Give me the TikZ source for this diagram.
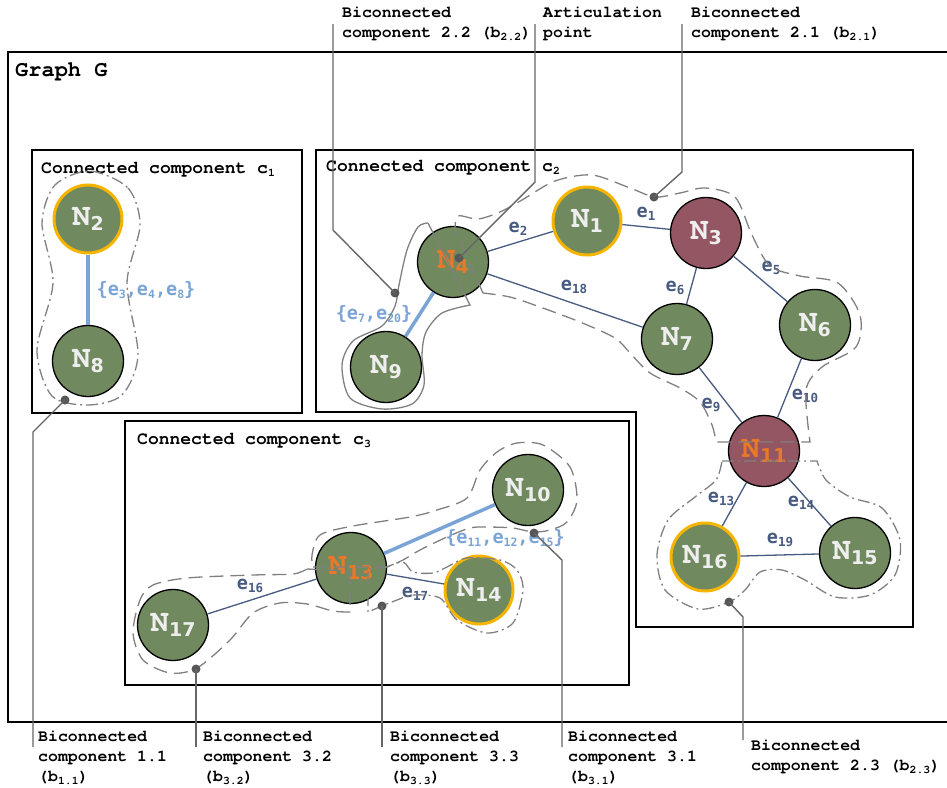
\documentclass[tikz,border=0pt]{standalone}
\usepackage{fontspec}
\setmonofont{texgyrecursor}[Extension=.otf, UprightFont=*-regular, BoldFont=*-bold,
  ItalicFont=*-italic, BoldItalicFont=*-bolditalic]
\newfontfamily\subfont{DejaVu Sans}
\newfontfamily\efont{DejaVu Sans Mono}

\definecolor{ngreen}{HTML}{71895F}
\definecolor{nred}{HTML}{945662}
\definecolor{nyellow}{HTML}{F5B400}
\definecolor{norange}{HTML}{E8782A}
\definecolor{ntext}{HTML}{EEEEEE}
\definecolor{eblue}{HTML}{475A80}
\definecolor{lblue}{HTML}{7BA4D6}
\definecolor{ogray}{HTML}{808080}
\definecolor{lgray}{HTML}{666666}

\newcommand\nname[1]{{\fontsize{31}{31}\selectfont N}\raisebox{-5pt}{\subfont\fontsize{19}{19}\selectfont #1}}
\newcommand\elab[1]{e\raisebox{-3pt}{\fontsize{12.5}{12.5}\selectfont #1}}
\newcommand\tsub[1]{\raisebox{-2.5pt}{\fontsize{11.5}{11.5}\selectfont #1}}

\tikzset{
  gnode/.style={circle, draw=black, line width=1.3pt, fill=ngreen, minimum size=71pt,
    inner sep=0pt, text=ntext, font=\ttfamily\bfseries},
  rnode/.style={gnode, fill=nred},
  onode/.style={gnode, draw=nyellow, line width=3pt, minimum size=68pt},
  edge/.style={draw=eblue, line width=1.3pt},
  bedge/.style={draw=lblue, line width=3.5pt},
  elabel/.style={text=eblue, inner sep=0pt, font=\efont\bfseries\fontsize{18.5}{18.5}\selectfont},
  blabel/.style={elabel, text=lblue},
  frame/.style={draw=black, line width=1.5pt},
  ftitle/.style={anchor=west, inner sep=0pt, font=\ttfamily\bfseries\fontsize{18}{18}\selectfont},
  note/.style={anchor=north west, align=left, inner sep=0pt,
    font=\ttfamily\bfseries\fontsize{16.5}{20}\selectfont},
  bsolid/.style={draw=ogray, line width=1.3pt},
  bdash/.style={draw=ogray, line width=1.3pt, dash pattern=on 14pt off 7pt},
  bdashdot/.style={draw=ogray, line width=1.3pt, dash pattern=on 12pt off 4pt on 2pt off 4pt},
  lead/.style={draw=lgray, line width=1.4pt},
  leaddot/.style={circle, fill=lgray!85!black, inner sep=0pt, minimum size=9pt},
}

\begin{document}
\begin{tikzpicture}[x=1pt, y=-1pt]
  \useasboundingbox (0,0) rectangle (947,787);

  % frames
  \draw[frame] (8,52) rectangle (960,722);
  \node[ftitle, font=\ttfamily\bfseries\fontsize{22}{22}\selectfont] (gtitle) at (15,72) {Graph G};
  \draw[frame] (32,150) rectangle (302,413);
  \node[ftitle] (c1title) at (41,170) {Connected component c\tsub{1}};
  \draw[frame] (316,150) -- (913,150) -- (913,627) -- (636,627) -- (636,412) -- (316,412) -- cycle;
  \node[ftitle] (c2title) at (326,168) {Connected component c\tsub{2}};
  \draw[frame] (125,421) rectangle (629,685);
  \node[ftitle] (c3title) at (137,441) {Connected component c\tsub{3}};

  % vertices
  \node[onode] (N2) at (88,219) {\nname{2}};
  \node[gnode] (N8) at (88,361) {\nname{8}};
  \node[onode] (N1) at (587,221) {\nname{1}};
  \node[gnode] (N4) at (453,262) {\color{norange}\nname{4}};
  \node[gnode] (N9) at (386,367) {\nname{9}};
  \node[rnode] (N3) at (706,233) {\nname{3}};
  \node[gnode] (N6) at (815,325) {\nname{6}};
  \node[gnode] (N7) at (677,339) {\nname{7}};
  \node[rnode] (N11) at (764,451) {\color{norange}\nname{11}};
  \node[onode] (N16) at (705,557) {\nname{16}};
  \node[gnode] (N15) at (855,553) {\nname{15}};
  \node[gnode] (N10) at (528,490) {\nname{10}};
  \node[gnode] (N13) at (351,568) {\color{norange}\nname{13}};
  \node[onode] (N14) at (479,590) {\nname{14}};
  \node[gnode] (N17) at (173,625) {\nname{17}};

  % edges
  \draw[bedge] (N2) -- (N8);
  \draw[bedge] (N4) -- (N9);
  \draw[bedge] (N13) -- (N10);
  \draw[edge] (N1) -- (N3);
  \draw[edge] (N4) -- (N1);
  \draw[edge] (N3) -- (N6);
  \draw[edge] (N3) -- (N7);
  \draw[edge] (N7) -- (N11);
  \draw[edge] (N6) -- (N11);
  \draw[edge] (N11) -- (N16);
  \draw[edge] (N11) -- (N15);
  \draw[edge] (N4) -- (N7);
  \draw[edge] (N16) -- (N15);
  \draw[edge] (N17) -- (N13);
  \draw[edge] (N13) -- (N14);

  \node[blabel] (l348) at (146,290) {\{e\tsub{3},e\tsub{4},e\tsub{8}\}};
  \node[blabel] (l720) at (374,314) {\{e\tsub{7},e\tsub{20}\}};
  \node[blabel] (l111215) at (505,538) {\{e\tsub{11},e\tsub{12},e\tsub{15}\}};
  \node[elabel] (l1) at (646,214) {\elab{1}};
  \node[elabel] (l2) at (518,229) {\elab{2}};
  \node[elabel] (l5) at (771,268) {\elab{5}};
  \node[elabel] (l6) at (675,288) {\elab{6}};
  \node[elabel] (l9) at (711,405) {\elab{9}};
  \node[elabel] (l10) at (805,396) {\elab{10}};
  \node[elabel] (l13) at (721,499) {\elab{13}};
  \node[elabel] (l14) at (801,503) {\elab{14}};
  \node[elabel] (l18) at (574,287) {\elab{18}};
  \node[elabel] (l19) at (780,540) {\elab{19}};
  \node[elabel] (l16) at (250,586) {\elab{16}};
  \node[elabel] (l17) at (415,594) {\elab{17}};

  % biconnected components
  \draw[bdashdot] plot[smooth cycle] coordinates {(90,171) (128,188) (140,225) (127,283)
    (138,355) (122,395) (88,405) (52,396) (37,350) (53,283) (42,223) (55,185)};
  \draw[bsolid] (428,223) -- (470,305) -- plot[smooth] coordinates {(470,305) (442,313)
    (426,332) (422,355) (424,385) (412,404) (382,409) (350,398) (342,365) (353,341)
    (382,326) (395,306) (399,285) (407,250) (418,227) (428,223)};
  \draw[bdash] (483,293) -- (455,230) -- plot[smooth] coordinates {(455,230) (458,216)
    (478,219) (500,212) (522,200) (555,181) (592,175) (630,188) (655,197) (680,193)
    (705,188) (735,197) (752,235) (770,266) (800,276) (838,283) (860,315) (856,347)
    (822,367) (806,390) (810,442)} -- (716,442) -- plot[smooth] coordinates {(716,442)
    (712,425) (700,402) (680,388) (650,373) (630,353) (615,338) (580,322) (540,307)
    (510,297) (483,293)};
  \draw[bdashdot] (722,461) -- (817,461) -- plot[smooth] coordinates {(817,461) (826,480)
    (850,497) (882,508) (900,540) (895,575) (870,595) (835,597) (805,580) (782,570)
    (760,572) (745,590) (729,602) (698,609) (665,590) (657,555) (668,520) (695,497)
    (716,480) (722,461)};
  \draw[bdash] (313,567) -- (387,567) -- plot[smooth] coordinates {(387,567) (403,560)
    (420,550) (447,537) (470,528) (487,527) (513,528) (533,532) (550,530) (567,522)
    (577,500) (570,467) (543,445) (517,443) (497,452) (480,470) (467,498) (437,510)
    (410,517) (353,526) (320,535) (312,555) (313,567)};
  \draw[bdash] (307,569) -- (350,571) -- (350,612) -- plot[smooth] coordinates {(350,612)
    (333,611) (307,604) (280,603) (253,613) (230,640) (197,668) (170,673) (143,660)
    (133,633) (140,600) (153,585) (187,578) (253,575) (293,574) (307,569)};
  \draw[bdashdot] (387,567) -- (368,569) -- (368,612) -- plot[smooth] coordinates {(368,612)
    (382,606) (397,600) (413,595) (440,598) (457,620) (487,633) (513,623) (523,590)
    (517,570) (500,560) (467,558) (447,567) (433,573) (413,572) (403,562) (387,567)};

  % annotations
  \node[note] (tb22) at (342,7) {Biconnected\\component 2.2 (b\tsub{2.2})};
  \node[note] (tap) at (543,7) {Articulation\\point};
  \node[note] (tb21) at (691,7) {Biconnected\\component 2.1 (b\tsub{2.1})};
  \node[note] (tb11) at (38,731) {Biconnected\\component 1.1\\(b\tsub{1.1})};
  \node[note] (tb32) at (203,731) {Biconnected\\component 3.2\\(b\tsub{3.2})};
  \node[note] (tb33) at (390,731) {Biconnected\\component 3.3\\(b\tsub{3.3})};
  \node[note] (tb31) at (568,731) {Biconnected\\component 3.1\\(b\tsub{3.1})};
  \node[note] (tb23) at (751,740) {Biconnected\\component 2.3 (b\tsub{2.3})};

  \node[leaddot] (d22) at (395,293) {};
  \node[leaddot] (dap) at (459,258) {};
  \node[leaddot] (d21) at (654,197) {};
  \node[leaddot] (d11) at (65,400) {};
  \node[leaddot] (d32) at (196,669) {};
  \node[leaddot] (d33) at (382,606) {};
  \node[leaddot] (d31) at (534,533) {};
  \node[leaddot] (d23) at (729,602) {};

  \draw[lead] (d22.center) -- (333,230) -- (333,24);
  \draw[lead] (dap.center) -- (535,182) -- (535,24);
  \draw[lead] (d21.center) -- (682,172) -- (682,24);
  \draw[lead] (d11.center) -- (33,432) -- (33,747);
  \draw[lead] (d32.center) -- (196,747);
  \draw[lead] (d33.center) -- (382,747);
  \draw[lead] (d31.center) -- (562,560) -- (562,747);
  \draw[lead] (d23.center) -- (743,617) -- (743,740);
\end{tikzpicture}
\end{document}
